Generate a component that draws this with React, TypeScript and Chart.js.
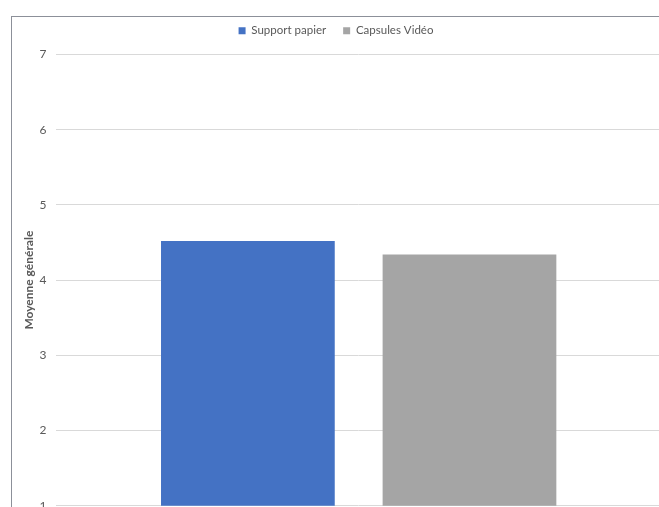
import React, { useEffect, useRef } from "react";
import { Chart, registerables } from "chart.js";

Chart.register(...registerables);

const categories: string[] = [""];
const seriesNames: string[] = ["Support papier", "Capsules Vidéo"];
const supportPapier: number[] = [4.52];
const capsulesVideo: number[] = [4.34];
const yTicks: number[] = [1, 2, 3, 4, 5, 6, 7];
const yTitle = "Moyenne générale";

const FONT = "Lato, 'Liberation Sans', sans-serif";

const legendGap = {
  id: "legendGap",
  beforeInit(chart: any) {
    const legend = chart.legend;
    if (!legend) return;
    const origFit = legend.fit;
    legend.fit = function () {
      origFit.call(this);
      this.height += 8;
    };
  },
};

export default function App() {
  const ref = useRef<HTMLCanvasElement | null>(null);

  useEffect(() => {
    if (!ref.current) return;
    const chart = new Chart(ref.current, {
      type: "bar",
      data: {
        labels: categories,
        datasets: [
          {
            label: seriesNames[0],
            data: supportPapier,
            backgroundColor: "#4472C4",
            categoryPercentage: 0.733,
            barPercentage: 0.784,
          },
          {
            label: seriesNames[1],
            data: capsulesVideo,
            backgroundColor: "#A5A5A5",
            categoryPercentage: 0.733,
            barPercentage: 0.784,
          },
        ],
      },
      options: {
        responsive: false,
        animation: false,
        layout: { padding: 0 },
        plugins: {
          tooltip: { enabled: false },
          legend: {
            position: "top",
            labels: {
              boxWidth: 7,
              boxHeight: 7,
              padding: 17,
              color: "#595959",
              font: { family: FONT, size: 11.5 },
            },
          },
        },
        scales: {
          x: {
            display: false,
          },
          y: {
            min: yTicks[0],
            max: yTicks[yTicks.length - 1],
            afterBuildTicks: (axis: any) => {
              axis.ticks = yTicks.map((v) => ({ value: v }));
            },
            border: { display: false },
            grid: { color: "#d9d9d9", drawTicks: false, lineWidth: 1 },
            ticks: {
              padding: 10,
              color: "#595959",
              font: { family: FONT, size: 12 },
            },
            title: {
              display: true,
              text: yTitle,
              color: "#595959",
              font: { family: FONT, size: 12, weight: "bold" },
              padding: { top: 11, bottom: -7 },
            },
          },
        },
      },
      plugins: [legendGap],
    });
    return () => chart.destroy();
  }, []);

  return (
    <div
      style={{
        position: "fixed",
        top: 0,
        left: 0,
        width: 659,
        height: 507,
        overflow: "hidden",
        background: "#ffffff",
      }}
    >
      <div
        style={{
          position: "absolute",
          left: 11,
          top: 16,
          width: 800,
          height: 700,
          borderLeft: "1px solid #8c9099",
          borderTop: "1px solid #8c9099",
        }}
      />
      <canvas
        ref={ref}
        width={650}
        height={515}
        style={{ position: "absolute", left: 11, top: 8, width: 650, height: 515 }}
      />
    </div>
  );
}
